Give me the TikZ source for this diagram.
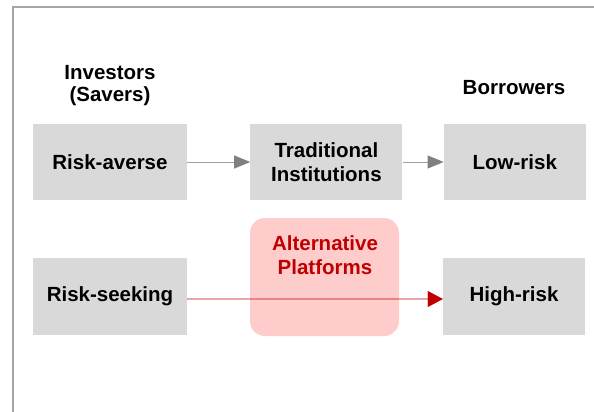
\documentclass[tikz,border=0pt]{standalone}
\usepackage{fontspec}
\setmainfont{Liberation Sans}
\usepackage{tikz}
\usetikzlibrary{arrows.meta, positioning}
\definecolor{boxgray}{HTML}{D9D9D9}
\definecolor{framegray}{HTML}{A6A6A6}
\definecolor{arrgray}{HTML}{A0A0A0}
\definecolor{tipgray}{HTML}{808080}
\definecolor{altred}{HTML}{C00000}
\definecolor{altpink}{HTML}{FFCCCC}
\tikzset{
  gblk/.style={
    rectangle, fill=boxgray, inner sep=0pt,
    minimum width=#1, minimum height=76pt,
    align=center, font=\bfseries\fontsize{20.5}{24}\selectfont
  },
  hdr/.style={align=center, inner sep=0pt,
    font=\bfseries\fontsize{20.5}{22}\selectfont},
  garr/.style={draw=arrgray, line width=1pt,
    -{Triangle[length=16pt, width=13pt, color=tipgray]}},
  rline/.style={draw=altred, draw opacity=0.35, line width=2pt},
  rtip/.style={draw=altred, line width=0.1pt,
    -{Triangle[length=15pt, width=16pt, color=altred]}}
}

\begin{document}
\begin{tikzpicture}[
    x=1pt, y=-1pt,
    altblk/.style={rectangle, fill=altpink, rounded corners=15pt,
                   minimum width=149pt, minimum height=118pt, inner sep=0pt},
    alttxt/.style={text=altred, align=center, inner sep=0pt,
                   font=\bfseries\fontsize{20.5}{24}\selectfont}
  ]
  \clip (0,0) rectangle (594,412);
  \draw[framegray, line width=2.5pt] (13,7) rectangle (620,440);

  % column titles
  \node[hdr] (investors) at (110,86) {Investors\\(Savers)};
  \node[hdr] (borrowers) at (514,88) {Borrowers};

  % upper row
  \node[gblk=154pt] (averse) at (110,162) {Risk-averse};
  \node[gblk=152pt, right=63pt of averse] (trad) {Traditional\\Institutions};
  \node[gblk=142pt, right=41pt of trad] (lowrisk) {Low-risk};

  % lower row
  \node[altblk] (alt) at (324.5,277) {};
  \node[alttxt] (alttitle) at (325,255) {Alternative\\Platforms};
  \node[gblk=154pt, minimum height=77pt] (seeking) at (110,296) {Risk-seeking};
  \node[gblk=142pt, minimum height=77pt] (highrisk) at (514,296) {High-risk};

  \draw[garr] (averse) -- (trad);
  \draw[garr] (trad) -- (lowrisk);
  % red connector: see-through line, solid head
  \draw[rline] ([yshift=-3pt]seeking.east) -- ([yshift=-3pt,xshift=-14pt]highrisk.west);
  \draw[rtip] ([yshift=-3pt,xshift=-15pt]highrisk.west) -- ([yshift=-3pt]highrisk.west);
\end{tikzpicture}
\end{document}
